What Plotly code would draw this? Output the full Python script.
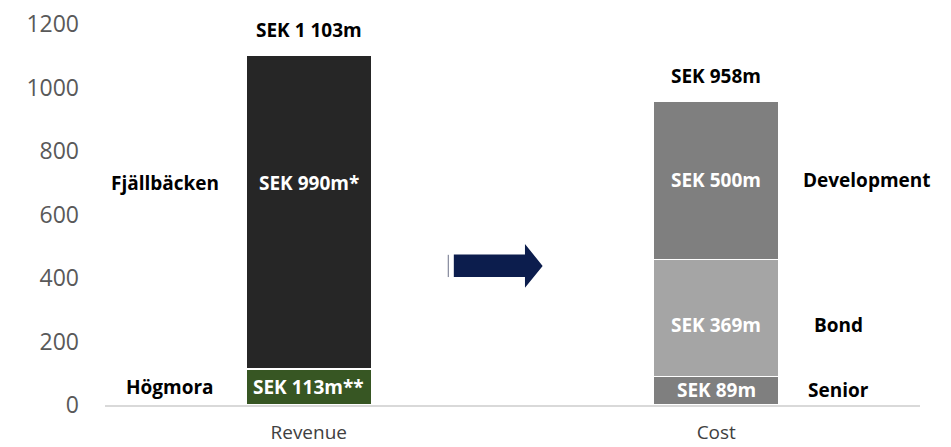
import plotly.graph_objects as go

categories = ["Revenue", "Cost"]

# Revenue stack
revenue_parts = ["Högmora", "Fjällbäcken"]
revenue_values = [113, 990]
revenue_labels = ["SEK 113m**", "SEK 990m*"]
revenue_colors = ["#375623", "#262626"]

# Cost stack
cost_parts = ["Senior", "Bond", "Development"]
cost_values = [89, 369, 500]
cost_labels = ["SEK 89m", "SEK 369m", "SEK 500m"]
cost_colors = ["#7f7f7f", "#a5a5a5", "#7f7f7f"]

total_labels = ["SEK 1 103m", "SEK 958m"]

y_ticks = [0, 200, 400, 600, 800, 1000, 1200]

FONT = "Open Sans"
BAR_W = 0.308

fig = go.Figure()

for name, v, c in zip(revenue_parts, revenue_values, revenue_colors):
    fig.add_trace(go.Bar(x=["Revenue"], y=[v], name=name, marker=dict(color=c, line=dict(color="white", width=1.5)),
                         width=BAR_W, hoverinfo="skip"))
for name, v, c in zip(cost_parts, cost_values, cost_colors):
    fig.add_trace(go.Bar(x=["Cost"], y=[v], name=name, marker=dict(color=c, line=dict(color="white", width=1.5)),
                         width=BAR_W, hoverinfo="skip"))

annotations = []
bold = dict(family=FONT, size=19, color="black")
white = dict(family=FONT, size=19, color="white")

# in-bar labels (segment midpoints; large Fjällbäcken label sits higher)
base = 0
rev_label_y = []
for v in revenue_values:
    rev_label_y.append(base + v / 2)
    base += v
rev_label_y[1] = 698
for lbl, y in zip(revenue_labels, rev_label_y):
    annotations.append(dict(x="Revenue", y=y, text=f"<b>{lbl}</b>", showarrow=False, font=white,
                            xref="x", yref="y", xanchor="center", yanchor="middle"))
base = 0
cost_label_y = []
for v in cost_values:
    cost_label_y.append(base + v / 2)
    base += v
cost_label_y[1] = 252
cost_label_y[0] = 48
for lbl, y in zip(cost_labels, cost_label_y):
    annotations.append(dict(x="Cost", y=y, text=f"<b>{lbl}</b>", showarrow=False, font=white,
                            xref="x", yref="y", xanchor="center", yanchor="middle"))

# totals above bars
for cat, vals, lbl in zip(categories, [revenue_values, cost_values], total_labels):
    annotations.append(dict(x=cat, y=sum(vals), text=f"<b>{lbl}</b>", showarrow=False, font=bold,
                            xref="x", yref="y", xanchor="center", yanchor="middle", yshift=25))

# side labels
side = [
    ("Fjällbäcken", 0.0736, rev_label_y[1]),
    ("Högmora", 0.0798, rev_label_y[0]),
    ("Development", 0.935, cost_label_y[2]),
    ("Bond", 0.9006, cost_label_y[1]),
    ("Senior", 0.9006, cost_label_y[0]),
]
for txt, px, y in side:
    annotations.append(dict(x=px, y=y, text=f"<b>{txt}</b>", showarrow=False, font=bold,
                            xref="paper", yref="y", xanchor="center", yanchor="middle"))

# arrow shape
arrow_color = "#0c1d4d"
x0, x1, x2 = 0.428, 0.5153, 0.537
shapes = [
    dict(type="path", xref="paper", yref="y",
         path=f"M {x0} 474 L {x1} 474 L {x1} 507 L {x2} 438 L {x1} 369 L {x1} 403 L {x0} 403 Z",
         fillcolor=arrow_color, line=dict(width=0)),
    dict(type="line", xref="paper", yref="y", x0=0.4212, x1=0.4212, y0=403, y1=473,
         line=dict(color="#6b7088", width=1)),
]

fig.update_layout(
    barmode="stack",
    width=951, height=447,
    margin=dict(l=105, r=31, t=24, b=42),
    plot_bgcolor="white", paper_bgcolor="white",
    showlegend=False,
    annotations=annotations,
    shapes=shapes,
    font=dict(family=FONT),
    xaxis=dict(categoryorder="array", categoryarray=categories, showline=True, linecolor="#d9d9d9",
               linewidth=2, showgrid=False, tickfont=dict(family=FONT, size=19, color="#404040"),
               ticks="", ticklabelstandoff=9, range=[-0.5, 1.5], automargin=False),
    yaxis=dict(range=[0, 1200], tickvals=y_ticks, showgrid=False, zeroline=False, showline=False,
               tickfont=dict(family=FONT, size=23, color="#595959"), ticks="", ticklabelstandoff=25,
               automargin=False),
)

fig.write_html("out.html", config={"displayModeBar": False},
               post_script="document.body.style.margin='0';document.body.style.overflow='hidden';")
